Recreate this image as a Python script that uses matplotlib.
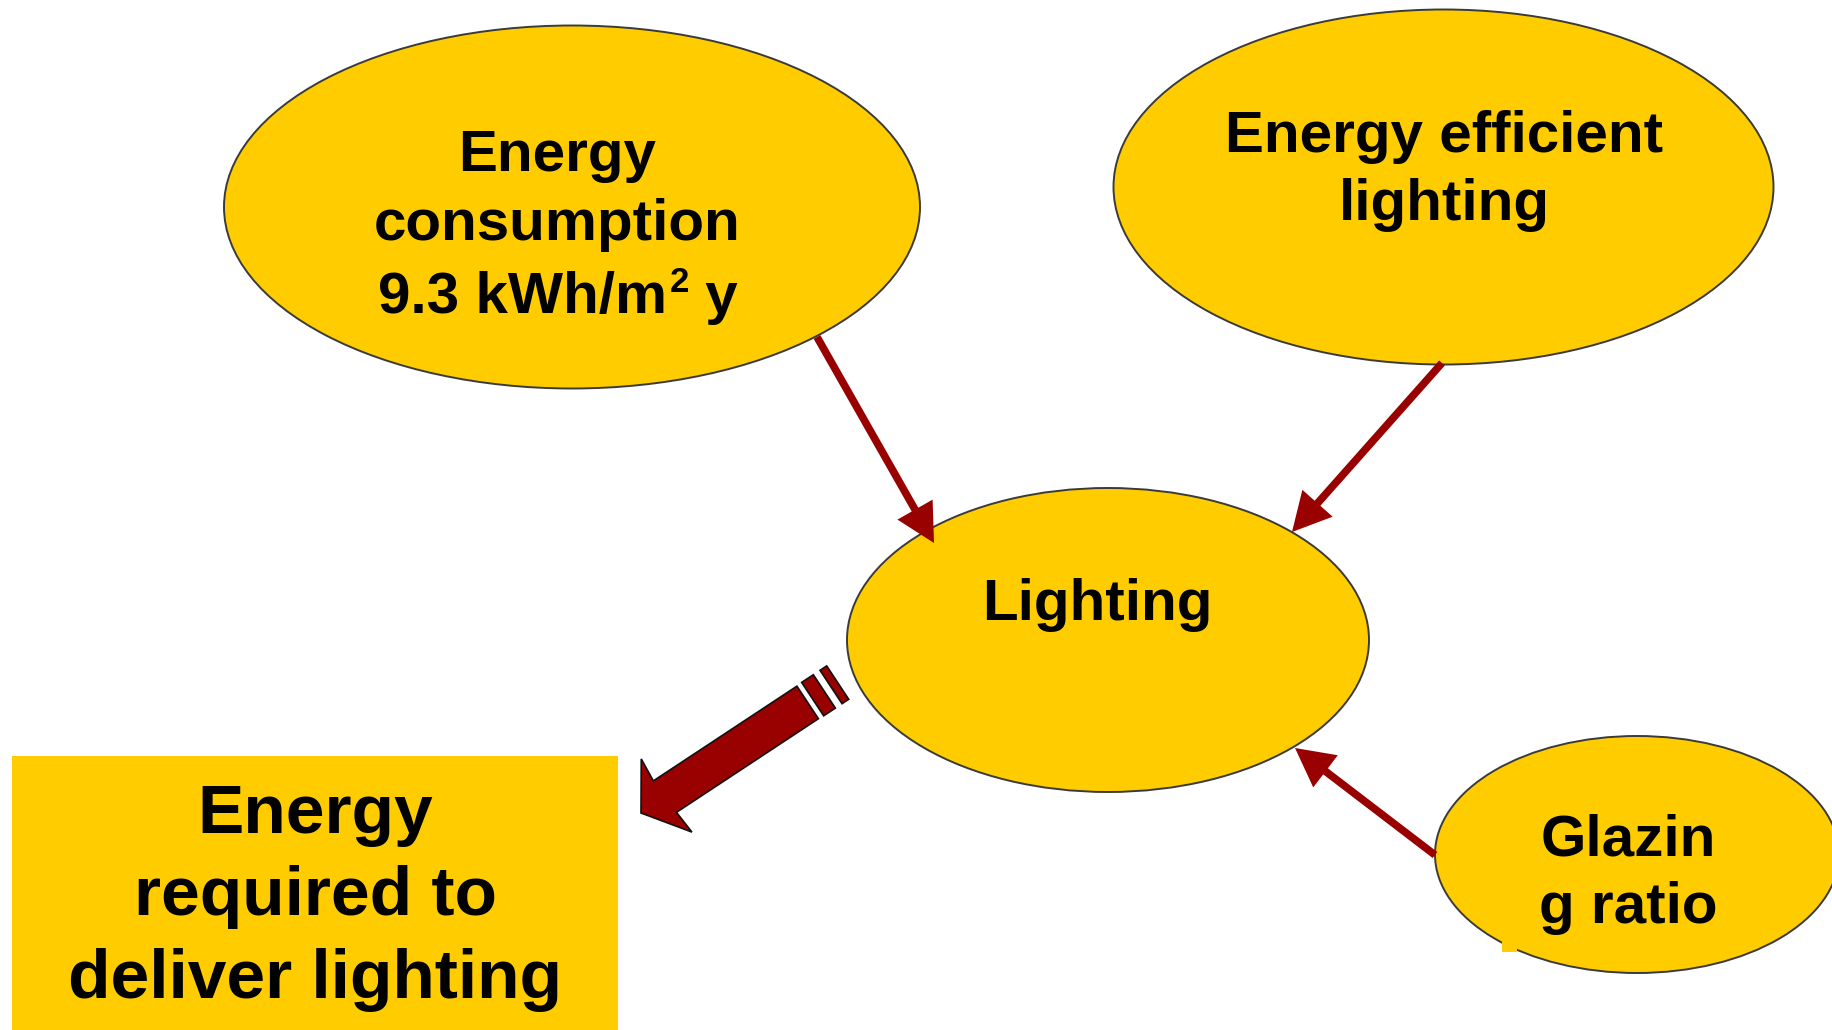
import numpy as np
import matplotlib
matplotlib.use("Agg")
import matplotlib.pyplot as plt
from matplotlib.patches import Ellipse, Rectangle, Polygon, FancyArrowPatch, ArrowStyle

# ---------------- content ----------------
consumption_lines = ["Energy", "consumption"]
consumption_value = ["9.3 kWh/m", "2", " y"]          # main text, superscript, tail
efficient_lines = ["Energy efficient", "lighting"]
lighting_lines = ["Lighting"]
glazing_lines = ["Glazin", "g ratio"]
result_lines = ["Energy", "required to", "deliver lighting"]

# ---------------- layout (pixel coordinates, y down) ----------------
W, H = 1832, 1030
YELLOW = "#FFCC00"
DARKRED = "#990000"
EDGE = "#3a3a3a"
FONT = "Liberation Sans"

ellipses = {
    "consumption": dict(c=(572, 207), w=696, h=363),
    "efficient": dict(c=(1443.5, 187), w=660, h=355),
    "lighting": dict(c=(1108, 640), w=522, h=304),
    "glazing": dict(c=(1637, 854.5), w=404, h=237),
}

fig = plt.figure(figsize=(W / 100, H / 100), dpi=100)
ax = fig.add_axes([0, 0, 1, 1])
ax.set_xlim(0, W)
ax.set_ylim(H, 0)
ax.axis("off")
fig.patch.set_facecolor("white")

# ---------------- shapes ----------------
for key, e in ellipses.items():
    ax.add_patch(Ellipse(e["c"], e["w"], e["h"], facecolor=YELLOW,
                         edgecolor=EDGE, lw=1.4, zorder=2))

# small yellow notch at the lower-left of the glazing ellipse
ax.add_patch(Rectangle((1502, 938), 15, 14, facecolor=YELLOW, edgecolor="none", zorder=3))

# result box
ax.add_patch(Rectangle((12, 756), 606, 290, facecolor=YELLOW, edgecolor="none", zorder=2))

# ---------------- thin arrows ----------------
thin_arrows = [((817, 337), (934, 543)),
               ((1442, 363), (1292, 532)),
               ((1435, 855), (1295, 748))]
for a, b in thin_arrows:
    ax.add_patch(FancyArrowPatch(a, b,
                                 arrowstyle=ArrowStyle("-|>", head_length=0.95, head_width=0.5),
                                 mutation_scale=20, color=DARKRED, lw=5.5,
                                 shrinkA=0, shrinkB=0, joinstyle="miter",
                                 capstyle="butt", zorder=4))

# ---------------- big block arrow ----------------
tip = np.array([641.0, 813.0])
bvec = np.array([0.835, -0.551]); bvec /= np.linalg.norm(bvec)
nvec = np.array([-bvec[1], bvec[0]])
if nvec[1] < 0:
    nvec = -nvec

def to_xy(pts):
    return np.array([tip + s * bvec + t * nvec for s, t in pts])

body = [(0, 0), (30, -45), (28, -20), (200, -20), (200, 19), (30, 19), (32, 44)]
stripe1 = [(206, -20.5), (220, -20.5), (220, 19.5), (206, 19.5)]
stripe2 = [(228, -20.5), (236, -20.5), (236, 19.5), (228, 19.5)]
for poly in (body, stripe1, stripe2):
    ax.add_patch(Polygon(to_xy(poly), closed=True, facecolor=DARKRED,
                         edgecolor="#111111", lw=1.2, joinstyle="miter", zorder=4))

# ---------------- texts ----------------
tk = dict(family=FONT, weight="bold", color="black", zorder=5)

def lines(cx, baselines, txts, size):
    for y, s in zip(baselines, txts):
        ax.text(cx, y, s, ha="center", va="baseline", fontsize=size, **tk)

lines(557, [171, 240], consumption_lines, 42)
lines(1444, [152, 220], efficient_lines, 42)
lines(1097, [620], lighting_lines, 42)
lines(1628, [855, 923], glazing_lines, 42)
lines(315, [833, 915, 998], result_lines, 50)

# "9.3 kWh/m² y" with a proper superscript, measured to centre it
main_t = ax.text(0, 313, consumption_value[0], ha="left", va="baseline", fontsize=42, **tk)
sup_t = ax.text(0, 292, consumption_value[1], ha="left", va="baseline", fontsize=25, **tk)
tail_t = ax.text(0, 313, consumption_value[2], ha="left", va="baseline", fontsize=42, **tk)
fig.canvas.draw()
r = fig.canvas.get_renderer()
w_main = main_t.get_window_extent(r).width
w_sup = sup_t.get_window_extent(r).width
w_tail = tail_t.get_window_extent(r).width
x0 = 558 - (w_main + w_sup + w_tail + 3) / 2
main_t.set_x(x0)
sup_t.set_x(x0 + w_main + 3)
tail_t.set_x(x0 + w_main + 3 + w_sup)

fig.savefig("out.png", dpi=100, facecolor="white")
